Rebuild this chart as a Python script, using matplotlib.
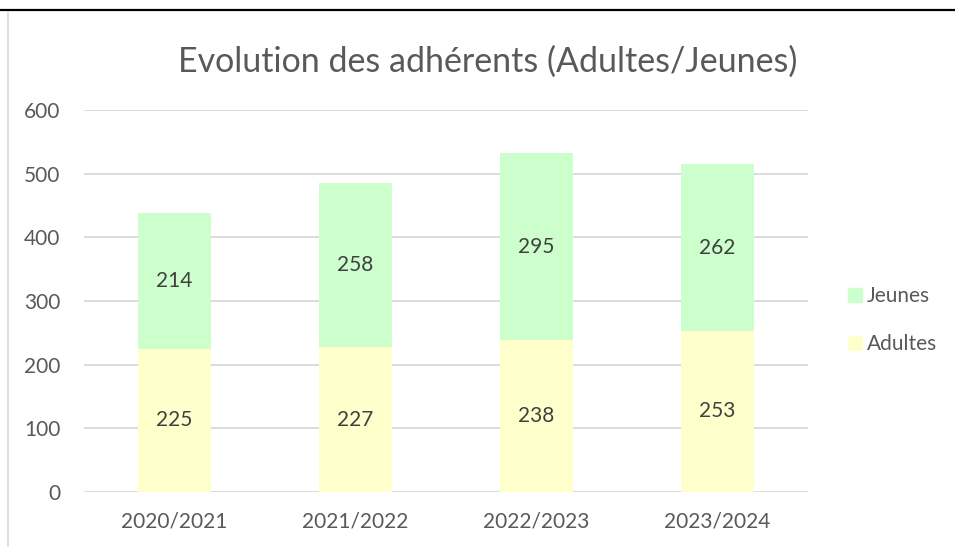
import matplotlib.pyplot as plt
import numpy as np
from matplotlib.lines import Line2D

# values
saisons = ['2020/2021', '2021/2022', '2022/2023', '2023/2024']
adultes = [225, 227, 238, 253]
jeunes = [214, 258, 295, 262]
yticks = [0, 100, 200, 300, 400, 500, 600]

plt.rcParams['font.family'] = ['Lato', 'DejaVu Sans']
txt = '#595959'

fig = plt.figure(figsize=(9.55, 5.47), dpi=100)
ax = fig.add_axes([84 / 955, 55 / 547, 724 / 955, 382 / 547])

x = np.arange(len(saisons))
w = 0.4
b1 = ax.bar(x, adultes, w, color='#FFFFCC', label='Adultes', zorder=2)
b2 = ax.bar(x, jeunes, w, bottom=adultes, color='#CCFFCC', label='Jeunes', zorder=2)
ax.bar_label(b1, label_type='center', fontsize=15, color='#404040')
ax.bar_label(b2, label_type='center', fontsize=15, color='#404040')

ax.set_xlim(-0.5, len(saisons) - 0.5)
ax.set_ylim(0, 600)
ax.set_yticks(yticks)
ax.set_xticks(x, saisons)
ax.grid(axis='y', color='#D9D9D9', lw=1.3, zorder=0)
for s in ax.spines.values():
    s.set_visible(False)
ax.tick_params(length=0, labelsize=15, colors=txt)
ax.tick_params(axis='y', pad=17)
ax.tick_params(axis='x', pad=14)

fig.text(488 / 955, 1 - 62 / 547, 'Evolution des adhérents (Adultes/Jeunes)',
         ha='center', va='center', fontsize=24.5, color=txt)

# legend: Jeunes on top
handles = [Line2D([], [], marker='s', ls='', markersize=10, color='#CCFFCC'),
           Line2D([], [], marker='s', ls='', markersize=10, color='#FFFFCC')]
fig.legend(handles, ['Jeunes', 'Adultes'], loc='center left',
           bbox_to_anchor=(826 / 955, 1 - 320 / 547), frameon=False,
           fontsize=15, labelcolor=txt, handletextpad=0.05, labelspacing=1.35,
           handlelength=1.0)

# frame lines
fig.add_artist(Line2D([0, 1], [1 - 10 / 547, 1 - 10 / 547], color='black', lw=1.6))
fig.add_artist(Line2D([8 / 955, 8 / 955], [0, 1 - 12 / 547], color='#D9D9D9', lw=1.2))

fig.savefig('out.png', dpi=100)
